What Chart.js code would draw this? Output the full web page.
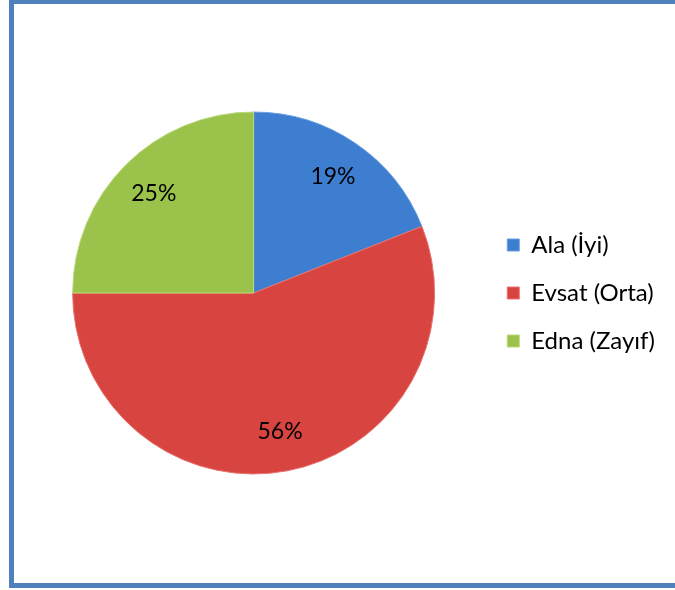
<!DOCTYPE html>
<html>
<head>
<meta charset="utf-8">
<script src="https://cdn.jsdelivr.net/npm/chart.js@4"></script>
<style>
    html, body { margin: 0; padding: 0; background: #fff; }
    #wrap { position: relative; width: 675px; height: 590px; overflow: hidden; }
    #frame {
        position: absolute; left: 9px; top: 0px;
        width: 700px; height: 588px;
        border: 5px solid #4f81bd;
        border-top-width: 4px;
        box-sizing: border-box;
    }
    #chart { position: absolute; left: 0; top: 0; }
</style>
</head>
<body>
<div id="wrap">
    <div id="frame"></div>
    <canvas id="chart" width="675" height="590"></canvas>
</div>
<script>
    // --- DADOS ---
    const categories = ['Ala (İyi)', 'Evsat (Orta)', 'Edna (Zayıf)'];
    const shares = [19, 56, 25];
    const sliceColors = ['#3e7ed0', '#d8443f', '#9bc24a'];
    const sliceEdges = ['#6a9ee0', '#e87370', '#b9d97a'];

    // rótulos de porcentagem dentro das fatias
    const percentLabels = {
        id: 'percentLabels',
        afterDatasetsDraw(chart) {
            const { ctx } = chart;
            const meta = chart.getDatasetMeta(0);
            const total = shares.reduce((a, b) => a + b, 0);
            ctx.save();
            ctx.font = '23px Lato, "Open Sans", sans-serif';
            ctx.fillStyle = '#000';
            ctx.textAlign = 'center';
            ctx.textBaseline = 'middle';
            meta.data.forEach((arc, i) => {
                const p = arc.getProps(['x', 'y', 'startAngle', 'endAngle', 'outerRadius'], true);
                const mid = (p.startAngle + p.endAngle) / 2;
                const r = p.outerRadius * 0.78;
                const pct = Math.round(shares[i] / total * 100) + '%';
                ctx.fillText(pct, p.x + Math.cos(mid) * r, p.y + Math.sin(mid) * r);
            });
            ctx.restore();
        }
    };

    const ctx = document.getElementById('chart').getContext('2d');
    new Chart(ctx, {
        type: 'pie',
        data: {
            labels: categories,
            datasets: [{
                data: shares,
                backgroundColor: sliceColors,
                borderColor: sliceEdges,
                borderWidth: 1,
                radius: 181
            }]
        },
        options: {
            responsive: false,
            animation: false,
            layout: { padding: { left: 24, right: 10, top: 0, bottom: 4 } },
            plugins: {
                tooltip: { enabled: false },
                legend: {
                    position: 'right',
                    labels: {
                        boxWidth: 12,
                        boxHeight: 12,
                        padding: 24,
                        color: '#000',
                        font: { family: 'Lato, "Open Sans", sans-serif', size: 24 }
                    }
                }
            }
        },
        plugins: [percentLabels]
    });
</script>
</body>
</html>
